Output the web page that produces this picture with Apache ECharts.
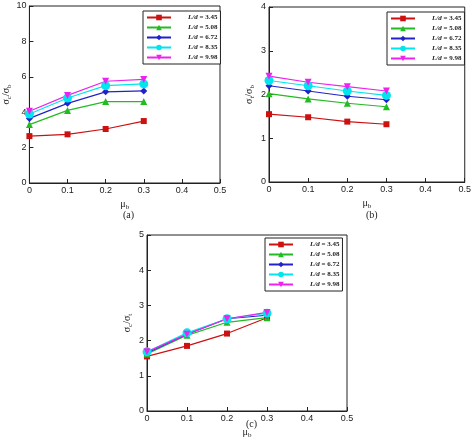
<!DOCTYPE html><html><head><meta charset="utf-8"><script src="https://cdn.jsdelivr.net/npm/echarts@6/dist/echarts.min.js"></script></head><body style="margin:0;background:#fff"><div id="c" style="width:474px;height:447px"></div><script>
const xCats=[0,0.1,0.2,0.3];
const ldLabels=['3.45','5.08','6.72','8.35','9.98'];
const aData=[[2.65,2.75,3.05,3.5],[3.3,4.1,4.6,4.6],[3.65,4.5,5.15,5.2],[3.9,4.8,5.5,5.6],[4.05,4.95,5.75,5.85]];
const bData=[[1.55,1.48,1.38,1.32],[2.02,1.9,1.8,1.72],[2.2,2.08,1.96,1.88],[2.32,2.2,2.08,1.98],[2.42,2.28,2.18,2.08]];
const cData=[[1.55,1.85,2.2,2.65],[1.62,2.15,2.52,2.65],[1.65,2.18,2.62,2.72],[1.68,2.22,2.62,2.78],[1.68,2.18,2.62,2.8]];
const colors=['#cc1111','#22bb22','#2222cc','#00e5ee','#ee22ee'];
const symbols=['rect','triangle','diamond','circle','triangle'];
const symSizes=[6,7,7,9,7];
const rot=[0,0,0,0,180];
const panels=[
 {data:aData,max:10,interval:2,grid:{left:24,top:6,width:196,height:177},yname:'σ{s|c}/σ{s|b}',legend:{left:143,top:11},title:'(a)',tx:123,ty:210},
 {data:bData,max:4,interval:1,grid:{left:269,top:7,width:197,height:175},yname:'σ{s|t}/σ{s|b}',legend:{left:387,top:12},title:'(b)',tx:366,ty:210},
 {data:cData,max:5,interval:1,grid:{left:147,top:235,width:200,height:176},yname:'σ{s|c}/σ{s|t}',legend:{left:265,top:238},title:'(c)',tx:246,ty:419}
];
const font='Liberation Serif';
const opt={animation:false,grid:[],xAxis:[],yAxis:[],series:[],legend:[],graphic:[]};
panels.forEach((p,pi)=>{
 opt.grid.push(Object.assign({containLabel:false,show:true,borderColor:'#222',borderWidth:1},p.grid));
 opt.xAxis.push({type:'value',gridIndex:pi,min:0,max:0.5,interval:0.1,name:'μ{s|b}',nameLocation:'middle',nameGap:15,
  nameTextStyle:{fontFamily:font,fontSize:10,color:'#222',rich:{s:{fontSize:7,verticalAlign:'bottom',padding:[6,0,0,0]}}},
  axisLine:{lineStyle:{color:'#222'}},axisTick:{inside:true,length:4,lineStyle:{color:'#222'}},splitLine:{show:false},
  axisLabel:{fontFamily:'Liberation Sans',fontSize:9,color:'#222',margin:3,formatter:v=>String(+v.toFixed(1))}});
 opt.yAxis.push({type:'value',gridIndex:pi,min:0,max:p.max,interval:p.interval,name:p.yname,nameLocation:'middle',nameGap:13,nameRotate:90,
  nameTextStyle:{fontFamily:font,fontSize:10,color:'#222',rich:{s:{fontSize:7,padding:[6,0,0,0]}}},
  axisLine:{lineStyle:{color:'#222'}},axisTick:{inside:true,length:4,lineStyle:{color:'#222'}},splitLine:{show:false},
  axisLabel:{fontFamily:'Liberation Sans',fontSize:9,color:'#222',margin:3}});
 const names=[];
 p.data.forEach((d,si)=>{
  const nm='p'+pi+'_'+si;names.push(nm);
  opt.series.push({type:'line',name:nm,xAxisIndex:pi,yAxisIndex:pi,data:d.map((v,i)=>[xCats[i],v]),
   color:colors[si],symbol:symbols[si],symbolSize:symSizes[si],symbolRotate:rot[si],lineStyle:{width:1.2},itemStyle:{color:colors[si]}});
 });
 opt.legend.push({data:names,left:p.legend.left,top:p.legend.top,orient:'vertical',itemGap:3,itemWidth:24,itemHeight:7,
  backgroundColor:'#fff',borderColor:'#222',borderWidth:1,padding:[3,3,3,3],selectedMode:false,
  formatter:n=>'{i|L/d} = '+ldLabels[+n.split('_')[1]],
  textStyle:{fontFamily:font,fontSize:7,fontWeight:'bold',color:'#222',padding:[0,0,0,12],rich:{i:{fontStyle:'italic',fontWeight:'bold',fontFamily:font,fontSize:7}}}});
 opt.graphic.push({type:'text',left:p.tx,top:p.ty,style:{text:p.title,font:'10px "Liberation Serif"',fill:'#222'}});
});
echarts.init(document.getElementById('c')).setOption(opt);
</script></body></html>
